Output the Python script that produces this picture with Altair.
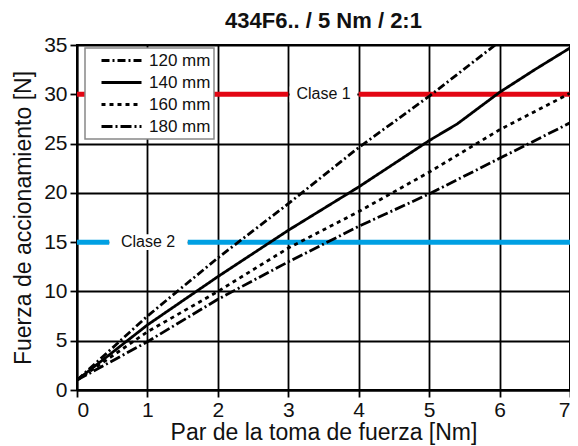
import altair as alt
import pandas as pd

# ---- data ----
series_names = ["120 mm", "140 mm", "160 mm", "180 mm"]
x_120 = [0, 1, 2, 3, 4, 5, 6]
y_120 = [1.0, 7.5, 13.4, 18.9, 24.6, 29.8, 35.35]
x_140 = [0, 1, 2, 3, 4, 5, 5.4, 6, 6.5, 7]
y_140 = [1.0, 6.6, 11.5, 16.2, 20.6, 25.3, 27.0, 30.2, 32.5, 34.7]
x_160 = [0, 1, 2, 3, 4, 5, 6, 7]
y_160 = [1.0, 5.9, 10.0, 14.4, 18.1, 22.1, 26.4, 30.1]
x_180 = [0, 1, 2, 3, 4, 5, 6, 7]
y_180 = [1.0, 4.9, 9.2, 13.0, 16.6, 19.9, 23.5, 27.1]

class_labels = ["Clase 1", "Clase 2"]
class_values = [30, 15]
class_colors = ["#e30613", "#00a0e3"]
# segments of class lines (start, end) with a gap around each label
class1_segments = [(0, 3), (4, 7)]
class1_label_x = 3.5
class2_segments = [(0, 0.46), (1.57, 7)]
class2_label_x = 1.01

x_ticks = [0, 1, 2, 3, 4, 5, 6, 7]
y_ticks = [0, 5, 10, 15, 20, 25, 30, 35]

title = "434F6.. / 5 Nm / 2:1"
x_title = "Par de la toma de fuerza [Nm]"
y_title = "Fuerza de accionamiento [N]"

FONT = "Liberation Sans"
TXT = "#111111"

rows = []
for name, xs_, ys_ in [("120 mm", x_120, y_120), ("140 mm", x_140, y_140),
                       ("160 mm", x_160, y_160), ("180 mm", x_180, y_180)]:
    for i, (a, b) in enumerate(zip(xs_, ys_)):
        rows.append({"serie": name, "x": a, "y": b, "o": i})
df = pd.DataFrame(rows)

seg_rows = []
for s0, s1 in class1_segments:
    seg_rows.append({"x": s0, "x2": s1, "y": class_values[0], "c": class_labels[0]})
for s0, s1 in class2_segments:
    seg_rows.append({"x": s0, "x2": s1, "y": class_values[1], "c": class_labels[1]})
seg_df = pd.DataFrame(seg_rows)

lab_df = pd.DataFrame({
    "x": [class1_label_x, class2_label_x],
    "y": class_values,
    "c": class_labels,
})
# white boxes behind the labels (gap between the coloured segments)
gap_df = pd.DataFrame({
    "x": [class1_segments[0][1] + 0.02, class2_segments[0][1]],
    "x2": [class1_segments[1][0] - 0.02, class2_segments[1][0]],
    "y": [class_values[0] - 0.8, class_values[1] - 0.8],
    "y2": [class_values[0] + 0.8, class_values[1] + 0.8],
})

xs = alt.Scale(domain=[0, 7], nice=False, zero=False)
ys = alt.Scale(domain=[0, 35], nice=False, zero=False)

x_axis = alt.Axis(values=x_ticks, title=x_title, grid=True, format="d", labelFlush=True)
y_axis = alt.Axis(values=y_ticks, title=y_title, grid=True, format="d", labelFlush=False)

base_x = alt.X("x:Q", scale=xs, axis=x_axis)
base_y = alt.Y("y:Q", scale=ys, axis=y_axis)

segs = alt.Chart(seg_df).mark_rule(strokeWidth=5).encode(
    x=base_x, x2="x2:Q", y=base_y,
    color=alt.Color("c:N", scale=alt.Scale(domain=class_labels, range=class_colors), legend=None),
)

gap = alt.Chart(gap_df).mark_rect(color="white").encode(
    x="x:Q", x2="x2:Q", y="y:Q", y2="y2:Q"
)

labels = alt.Chart(lab_df).mark_text(font=FONT, fontSize=16, color=TXT).encode(
    x="x:Q", y="y:Q", text="c:N"
)

lines = alt.Chart(df).mark_line(strokeWidth=2.8, color="black", clip=True).encode(
    x=base_x, y=base_y, order="o:Q",
    detail="serie:N",
    strokeDash=alt.StrokeDash(
        "serie:N",
        scale=alt.Scale(domain=series_names,
                        range=[[8, 3, 2, 3], [1, 0], [4, 4], [11, 3, 2, 3]]),
        legend=alt.Legend(
            title=None, orient="none", legendX=8, legendY=3,
            symbolType="stroke", symbolSize=1600, symbolStrokeWidth=3,
            symbolStrokeColor="black", symbolOffset=12,
            clipHeight=19, rowPadding=3,
            labelFont=FONT, labelFontSize=17, labelColor=TXT,
            fillColor="white", strokeColor="#888888",
            padding=3, labelOffset=6,
        ),
    ),
)

chart = alt.layer(segs, gap, labels, lines).properties(
    width=493, height=345,
    title=alt.TitleParams(title, font=FONT, fontSize=22, fontWeight="bold",
                          anchor="middle", color=TXT, offset=1),
    autosize=alt.AutoSizeParams(type="none"),
    padding={"left": 69, "top": 37, "right": 0, "bottom": 56},
).configure_view(stroke="black", strokeWidth=2).configure_axis(
    gridColor="black", gridWidth=1.8, gridOpacity=1,
    domainColor="black", domainWidth=1.8,
    tickColor="black", tickWidth=1.8,
    labelFont=FONT, labelColor=TXT,
    titleFont=FONT, titleFontWeight="normal", titleColor=TXT,
).configure_axisX(
    tickSize=7, labelPadding=2, labelFontSize=21, titlePadding=1, titleFontSize=23
).configure_axisY(
    tickSize=7, labelPadding=3, labelFontSize=21, titlePadding=8, titleFontSize=23
).configure_legend(strokeWidth=1.5)

chart.save("out.html", embed_options={"renderer": "svg", "actions": False})
